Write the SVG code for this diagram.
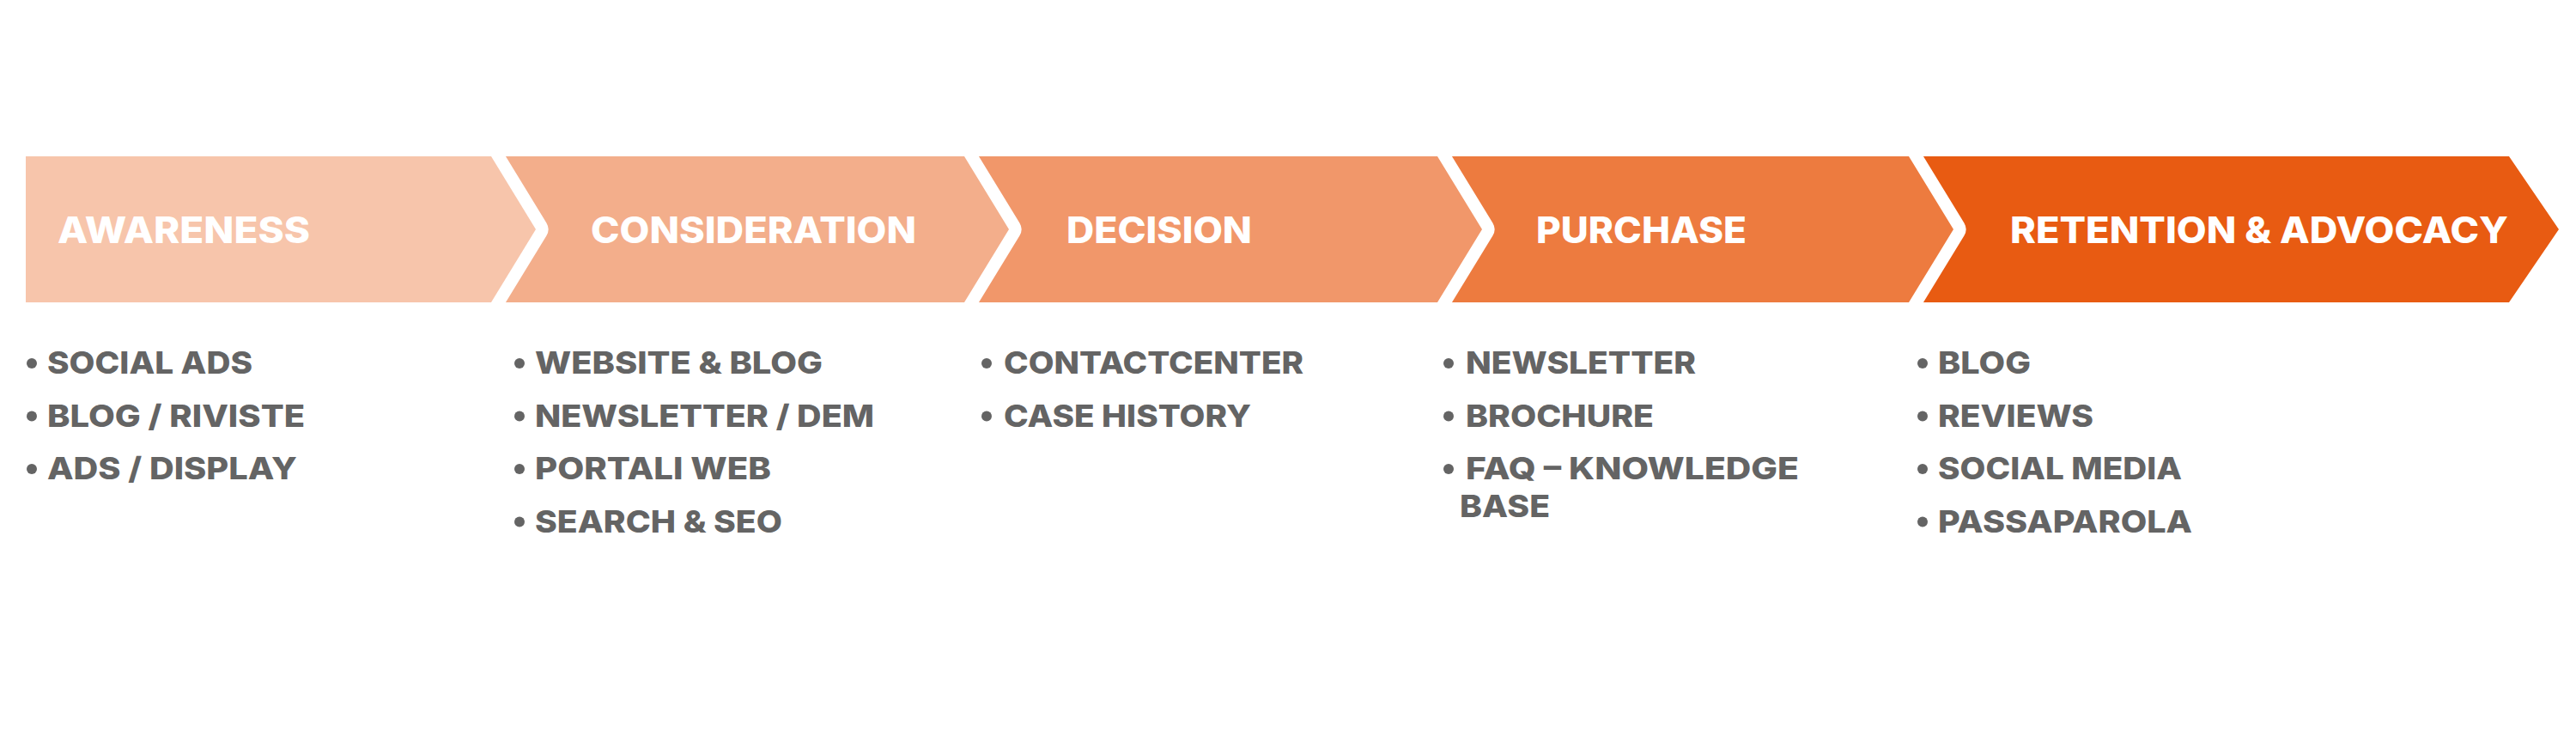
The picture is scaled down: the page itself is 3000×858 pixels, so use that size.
<svg xmlns="http://www.w3.org/2000/svg" width="3000" height="858" viewBox="0 0 3000 858">
<style>
.chev{stroke:#FFFFFF;stroke-width:29;stroke-linejoin:round;paint-order:stroke}
.head{font-family:Inter,"Liberation Sans",Arial,sans-serif;font-weight:800;font-size:42px;fill:#FFFFFF}
.item{font-family:Inter,"Liberation Sans",Arial,sans-serif;font-weight:800;font-size:36px;fill:#646464}
.dot{fill:#646464}
</style>
<rect x="0" y="0" width="3000" height="858" fill="#FFFFFF"/>
<g id="stage5">
<polygon class="chev" fill="#E85B12" points="2223,182 2922,182 2980,267 2922,352 2223,352 2275,267"/>
</g>
<g id="stage4">
<polygon class="chev" fill="#ED7B3F" points="1674,182 2223,182 2275,267 2223,352 1674,352 1726,267"/>
</g>
<g id="stage3">
<polygon class="chev" fill="#F1976A" points="1123,182 1674,182 1726,267 1674,352 1123,352 1175,267"/>
</g>
<g id="stage2">
<polygon class="chev" fill="#F3AE8B" points="572,182 1123,182 1175,267 1123,352 572,352 624,267"/>
</g>
<g id="stage1">
<polygon class="chev" fill="#F7C5AB" points="30,182 572,182 624,267 572,352 30,352"/>
</g>
<g id="labels">
<text class="head" x="67" y="283" textLength="294" lengthAdjust="spacingAndGlyphs">AWARENESS</text>
<text class="head" x="688" y="283" textLength="379" lengthAdjust="spacingAndGlyphs">CONSIDERATION</text>
<text class="head" x="1242" y="283" textLength="216" lengthAdjust="spacingAndGlyphs">DECISION</text>
<text class="head" x="1789" y="283" textLength="245" lengthAdjust="spacingAndGlyphs">PURCHASE</text>
<text class="head" x="2341" y="283" textLength="580" lengthAdjust="spacingAndGlyphs">RETENTION &amp; ADVOCACY</text>
</g>
<g id="list-awareness">
<circle class="dot" cx="37" cy="423" r="6"/>
<circle class="dot" cx="37" cy="484.5" r="6"/>
<circle class="dot" cx="37" cy="546" r="6"/>
<text class="item" x="55" y="435" textLength="239" lengthAdjust="spacingAndGlyphs">SOCIAL ADS</text>
<text class="item" x="55" y="496.5" textLength="300" lengthAdjust="spacingAndGlyphs">BLOG / RIVISTE</text>
<text class="item" x="55" y="558" textLength="291" lengthAdjust="spacingAndGlyphs">ADS / DISPLAY</text>
</g>
<g id="list-consideration">
<circle class="dot" cx="605" cy="423" r="6"/>
<circle class="dot" cx="605" cy="484.5" r="6"/>
<circle class="dot" cx="605" cy="546" r="6"/>
<circle class="dot" cx="605" cy="607.5" r="6"/>
<text class="item" x="623" y="435" textLength="335" lengthAdjust="spacingAndGlyphs">WEBSITE &amp; BLOG</text>
<text class="item" x="623" y="496.5" textLength="395" lengthAdjust="spacingAndGlyphs">NEWSLETTER / DEM</text>
<text class="item" x="623" y="558" textLength="275" lengthAdjust="spacingAndGlyphs">PORTALI WEB</text>
<text class="item" x="623" y="619.5" textLength="288" lengthAdjust="spacingAndGlyphs">SEARCH &amp; SEO</text>
</g>
<g id="list-decision">
<circle class="dot" cx="1149" cy="423" r="6"/>
<circle class="dot" cx="1149" cy="484.5" r="6"/>
<text class="item" x="1169" y="435" textLength="349" lengthAdjust="spacingAndGlyphs">CONTACTCENTER</text>
<text class="item" x="1169" y="496.5" textLength="288" lengthAdjust="spacingAndGlyphs">CASE HISTORY</text>
</g>
<g id="list-purchase">
<circle class="dot" cx="1687" cy="423" r="6"/>
<circle class="dot" cx="1687" cy="484.5" r="6"/>
<circle class="dot" cx="1687" cy="546" r="6"/>
<text class="item" x="1707" y="435" textLength="268" lengthAdjust="spacingAndGlyphs">NEWSLETTER</text>
<text class="item" x="1707" y="496.5" textLength="219" lengthAdjust="spacingAndGlyphs">BROCHURE</text>
<text class="item" x="1707" y="558" textLength="388" lengthAdjust="spacingAndGlyphs">FAQ – KNOWLEDGE</text>
<text class="item" x="1700" y="602" textLength="105" lengthAdjust="spacingAndGlyphs">BASE</text>
</g>
<g id="list-retention">
<circle class="dot" cx="2239" cy="423" r="6"/>
<circle class="dot" cx="2239" cy="484.5" r="6"/>
<circle class="dot" cx="2239" cy="546" r="6"/>
<circle class="dot" cx="2239" cy="607.5" r="6"/>
<text class="item" x="2257" y="435" textLength="108" lengthAdjust="spacingAndGlyphs">BLOG</text>
<text class="item" x="2257" y="496.5" textLength="181" lengthAdjust="spacingAndGlyphs">REVIEWS</text>
<text class="item" x="2257" y="558" textLength="284" lengthAdjust="spacingAndGlyphs">SOCIAL MEDIA</text>
<text class="item" x="2257" y="619.5" textLength="296" lengthAdjust="spacingAndGlyphs">PASSAPAROLA</text>
</g>
</svg>
